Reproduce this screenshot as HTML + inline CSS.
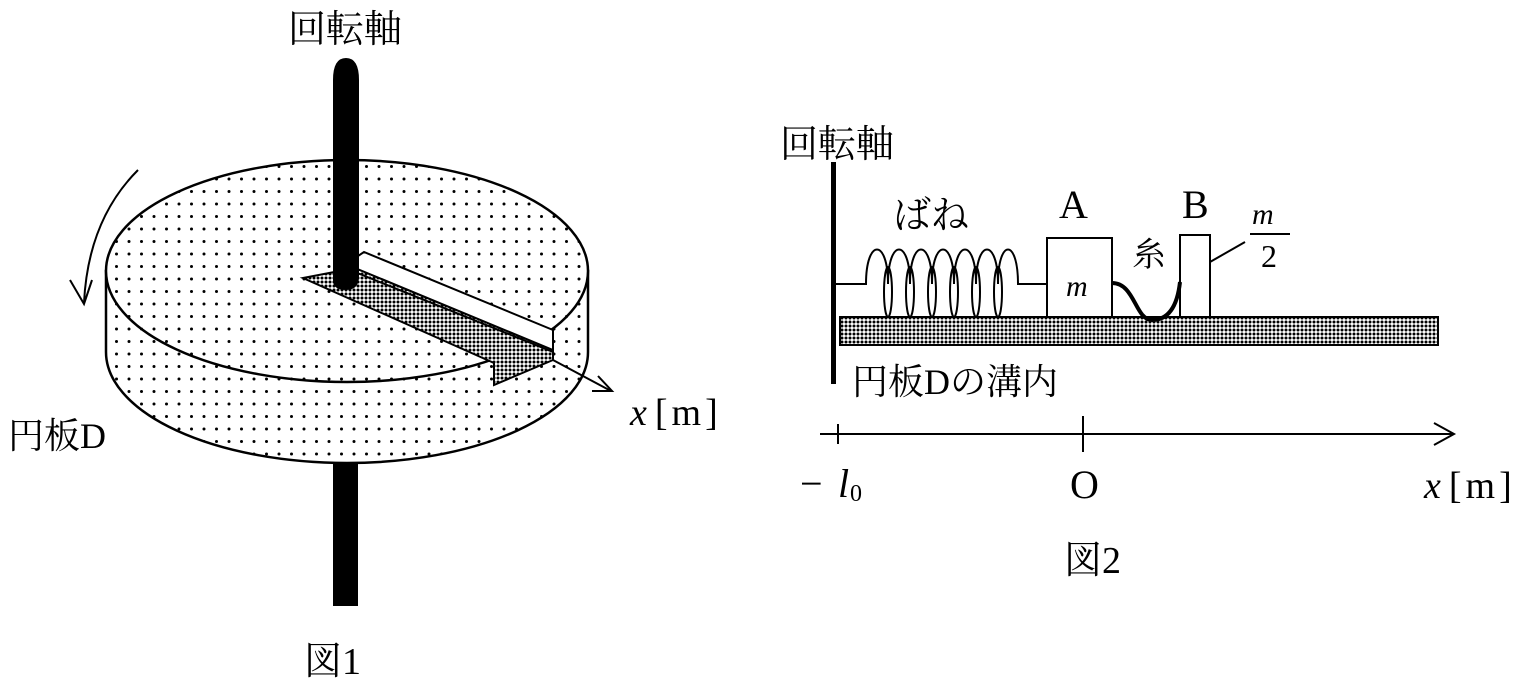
<!DOCTYPE html>
<html><head><meta charset="utf-8"><style>
html,body{margin:0;padding:0;background:#fff;}
svg{display:block}
text{font-family:"Liberation Serif","Noto Serif CJK SC",serif;fill:#000}
.j{font-family:"Liberation Serif","Noto Serif CJK SC",serif}
</style></head><body>
<svg width="1536" height="683" viewBox="0 0 1536 683" xmlns="http://www.w3.org/2000/svg">
<defs>
<pattern id="dots" width="12.5" height="12.5" patternUnits="userSpaceOnUse">
<circle cx="4" cy="4" r="1.5" fill="#000"/>
</pattern>
<pattern id="dense" width="4" height="4" patternUnits="userSpaceOnUse">
<rect width="4" height="4" fill="#fff"/><circle cx="2" cy="2" r="1.5" fill="#000"/>
</pattern>
</defs>

<!-- Figure 1 -->
<text x="288" y="42" font-size="38" class="j">回転軸</text>
<path d="M106 271 L106 352 A241 111 0 0 0 588 352 L588 271 Z" fill="#fff" stroke="#000" stroke-width="2.5"/>
<path d="M106 271 L106 352 A241 111 0 0 0 588 352 L588 271 Z" fill="url(#dots)"/>
<ellipse cx="347" cy="271" rx="241" ry="111" fill="#fff" stroke="#000" stroke-width="2.5"/>
<ellipse cx="347" cy="271" rx="241" ry="111" fill="url(#dots)"/>
<polygon points="303,278 355,268 553,350 553,360 494,385 494,363" fill="url(#dense)" stroke="#000" stroke-width="2"/>
<polygon points="355,258 364,252 553,330 553,350 355,268" fill="#fff" stroke="#000" stroke-width="2"/>
<line x1="345" y1="268" x2="553" y2="352" stroke="#000" stroke-width="2"/>
<line x1="553" y1="360" x2="611" y2="391" stroke="#000" stroke-width="2"/>
<path d="M598 376 L612 391 L592 391" fill="none" stroke="#000" stroke-width="2"/>
<path d="M333 285 L333 80 Q333 58 346 58 Q359 58 359 80 L359 276 Q359 290 346 290 Q333 290 333 280 Z" fill="#000"/>
<rect x="333" y="462" width="25" height="144" fill="#000"/>
<path d="M138 170 Q88 220 84 303" fill="none" stroke="#000" stroke-width="2"/>
<path d="M70 280 L84 304 L92 280" fill="none" stroke="#000" stroke-width="2"/>
<text x="630" y="425" font-size="38"><tspan font-style="italic">x</tspan><tspan dx="8">[</tspan><tspan dx="4">m</tspan><tspan dx="4">]</tspan></text>
<text x="8" y="448" font-size="36" class="j">円板D</text>
<text x="304" y="674" font-size="38" class="j">図1</text>

<!-- Figure 2 -->
<text x="780" y="157" font-size="38" class="j">回転軸</text>
<rect x="831" y="162" width="5" height="222" fill="#000"/>
<rect x="840" y="317" width="598" height="28" fill="url(#dense)" stroke="#000" stroke-width="2"/>
<g fill="none" stroke="#000" stroke-width="2">
<path d="M836 284 L866 284 C866 238 888 238 888 284"/>
<path d="M888 284 C888 238 910 238 910 284"/>
<path d="M910 284 C910 238 932 238 932 284"/>
<path d="M932 284 C932 238 954 238 954 284"/>
<path d="M954 284 C954 238 976 238 976 284"/>
<path d="M976 284 C976 238 998 238 998 284"/>
<path d="M998 284 C998 238 1018 238 1018 284 L1047 284"/>
<ellipse cx="888" cy="292" rx="4" ry="25"/>
<ellipse cx="910" cy="292" rx="4" ry="25"/>
<ellipse cx="932" cy="292" rx="4" ry="25"/>
<ellipse cx="954" cy="292" rx="4" ry="25"/>
<ellipse cx="976" cy="292" rx="4" ry="25"/>
<ellipse cx="998" cy="292" rx="4" ry="25"/>
</g>
<rect x="1047" y="238" width="65" height="79" fill="#fff" stroke="#000" stroke-width="2"/>
<rect x="1180" y="235" width="30" height="82" fill="#fff" stroke="#000" stroke-width="2"/>
<path d="M1112 283 C1135 283 1135 320 1152 320 C1172 320 1178 300 1180 282" fill="none" stroke="#000" stroke-width="4"/>
<line x1="1210" y1="262" x2="1245" y2="242" stroke="#000" stroke-width="2"/>
<text x="893" y="228" font-size="38" class="j">ばね</text>
<text x="1059" y="218" font-size="40">A</text>
<text x="1182" y="218" font-size="40">B</text>
<text x="1132" y="266" font-size="34" class="j">糸</text>
<text x="1066" y="296" font-size="30" font-style="italic">m</text>
<text x="1252" y="224" font-size="30" font-style="italic">m</text>
<line x1="1250" y1="234" x2="1290" y2="234" stroke="#000" stroke-width="2"/>
<text x="1261" y="267" font-size="32">2</text>
<text x="852" y="394" font-size="36" class="j">円板Dの溝内</text>
<line x1="820" y1="434" x2="1454" y2="434" stroke="#000" stroke-width="2"/>
<path d="M1434 423 L1454 434 L1434 445" fill="none" stroke="#000" stroke-width="2"/>
<line x1="838" y1="424" x2="838" y2="444" stroke="#000" stroke-width="2"/>
<line x1="1083" y1="416" x2="1083" y2="452" stroke="#000" stroke-width="2"/>
<text x="800" y="497" font-size="40">−</text>
<text x="838" y="497" font-size="40" font-style="italic">l</text>
<text x="850" y="501" font-size="24">0</text>
<text x="1070" y="498" font-size="40">O</text>
<text x="1424" y="498" font-size="38"><tspan font-style="italic">x</tspan><tspan dx="8">[</tspan><tspan dx="4">m</tspan><tspan dx="4">]</tspan></text>
<text x="1064" y="573" font-size="38" class="j">図2</text>
</svg>
</body></html>
